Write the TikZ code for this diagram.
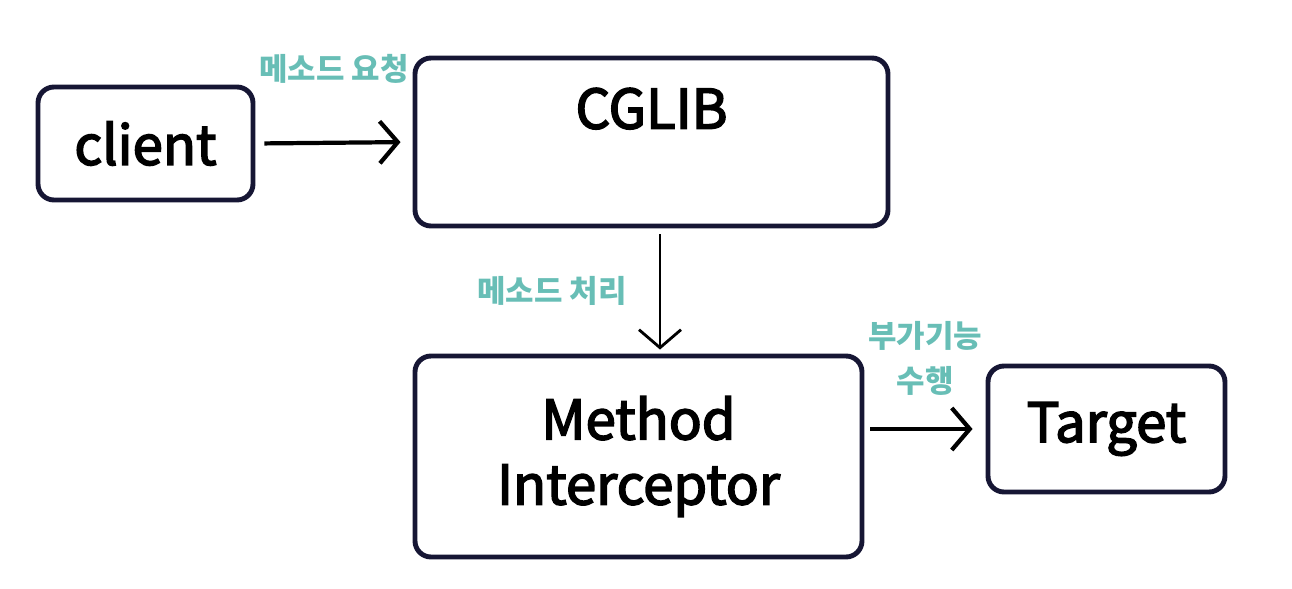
\documentclass[tikz,border=0pt]{standalone}
\usepackage{fontspec}
\setmainfont{Noto Sans CJK KR}
\usepackage{xcolor}
\usetikzlibrary{positioning,arrows.meta}

\definecolor{boxline}{RGB}{22,22,52}
\definecolor{labelteal}{RGB}{104,190,182}
\newcommand\heavytext[1]{\special{pdf:literal direct 2 Tr 0.45 w}#1\special{pdf:literal direct 0 Tr}}

\begin{document}
\begin{tikzpicture}[
    box/.style={draw=boxline, line width=1.4pt, rounded corners=0.16cm, fill=white},
    boxtext/.style={font=\fontsize{15.5}{18.5}\selectfont, text=black},
    lbl/.style={font=\fontsize{8.8}{12.6}\selectfont\bfseries, text=labelteal, align=center},
    arr/.style={-{Straight Barb[length=0.18cm,width=0.42cm]}, line width=1.2pt, black}
]

\useasboundingbox (0,0) rectangle (12.92,5.88);

\node[box, minimum width=2.15cm, minimum height=1.13cm] (client) at (1.455,4.445) {};
\node[boxtext] (clienttxt) at (client) {\heavytext{client}};

\node[box, minimum width=4.73cm, minimum height=1.68cm] (cglib) at (6.515,4.46) {};
\node[boxtext, below=0.2cm of cglib.north] (cglibtxt) {\heavytext{CGLIB}};

\node[box, minimum width=4.47cm, minimum height=2.01cm] (mi) at (6.385,1.315) {};
\node[boxtext, align=center] (mitxt) at (mi) {\heavytext{Method}\\\heavytext{Interceptor}};

\node[box, minimum width=2.37cm, minimum height=1.26cm] (target) at (11.065,1.59) {};
\node[boxtext] (targettxt) at (target) {\heavytext{Target}};

\draw[arr, shorten <=0.09cm, shorten >=0.12cm] (client.east) -- node[lbl, above=0.45cm] (reqlbl) {메소드 요청} (cglib.west);

\coordinate (downtop) at ([xshift=0.085cm]cglib.south);
\draw[arr, line width=0.8pt, shorten <=0.06cm, shorten >=0.04cm] (downtop) -- node[lbl, left=0.2cm] (proclbl) {메소드 처리} (downtop |- mi.north);

\draw[arr, shorten <=0.06cm, shorten >=0.13cm] (mi.east |- target.west) -- node[lbl, above=0.2cm] (extlbl) {부가기능\\수행} (target.west);

\end{tikzpicture}
\end{document}
